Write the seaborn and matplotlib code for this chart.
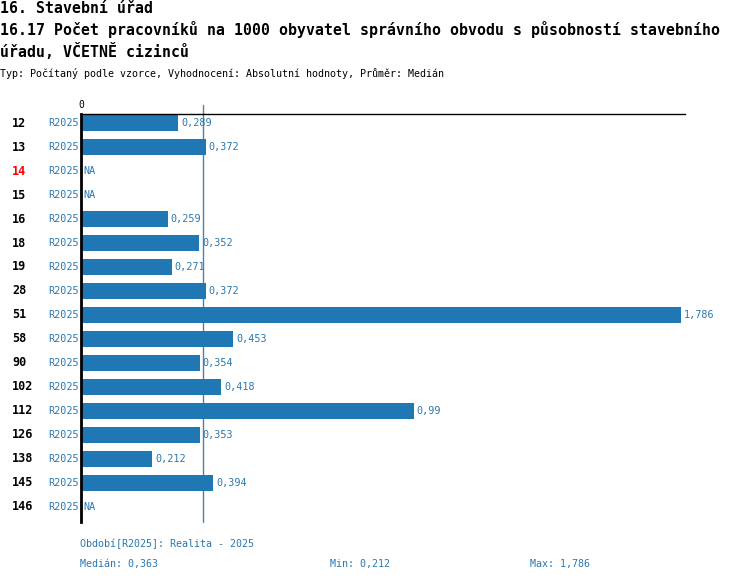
import matplotlib
matplotlib.use("Agg")
import matplotlib.pyplot as plt
import seaborn as sns
import numpy as np
import pandas as pd

# data
obvody = ["12", "13", "14", "15", "16", "18", "19", "28", "51", "58",
          "90", "102", "112", "126", "138", "145", "146"]
hodnoty = [0.289, 0.372, np.nan, np.nan, 0.259, 0.352, 0.271, 0.372, 1.786,
           0.453, 0.354, 0.418, 0.99, 0.353, 0.212, 0.394, np.nan]
obdobi = "R2025"
median = 0.363
minimum = 0.212
maximum = 1.786

modra = "#1f77b4"
text_modra = "#2a78b0"

df = pd.DataFrame({"obvod": obvody, "hodnota": hodnoty})

sns.set_style("white")
plt.rcParams["font.family"] = ["DejaVu Sans Mono"]
plt.rcParams["text.color"] = "black"

W, H = 750, 582
fig = plt.figure(figsize=(W / 100, H / 100), dpi=100)
ax = fig.add_axes([81 / W, 1 - 522 / H, 604 / W, 408 / H])

sns.barplot(data=df, x="hodnota", y="obvod", orient="h", color=modra,
            width=0.63, saturation=1, linewidth=0, edgecolor="none", ax=ax)

ax.set_xlim(0, 604 / 336)
ax.set_ylim(16.625, -0.375)
ax.set_xlabel("")
ax.set_ylabel("")
ax.set_yticks([])
ax.set_xticks([])
for s in ["right", "bottom"]:
    ax.spines[s].set_visible(False)
ax.spines["left"].set_linewidth(2)
ax.spines["left"].set_color("black")
ax.spines["top"].set_linewidth(1)
ax.spines["top"].set_color("black")

# median line
ax.plot([median, median], [16.625, -0.75], color="#5580a0", lw=1,
        clip_on=False, zorder=0.5)

# zero label
ax.annotate("0", xy=(0, 1), xycoords="axes fraction", xytext=(0, 3),
            textcoords="offset points", ha="center", va="bottom", fontsize=7)

for i, (ob, v) in enumerate(zip(obvody, hodnoty)):
    barva = "red" if ob == "14" else "black"
    ax.annotate(ob, xy=(-69 / 604, i), xycoords=("axes fraction", "data"),
                ha="left", va="center", fontsize=8.5, fontweight="bold",
                color=barva)
    ax.annotate(obdobi, xy=(-2 / 604, i), xycoords=("axes fraction", "data"),
                ha="right", va="center", fontsize=7.3, color=text_modra)
    if np.isnan(v):
        popis, x = "NA", 0
    else:
        popis, x = f"{v:g}".replace(".", ","), v
    ax.annotate(popis, xy=(x, i), xytext=(2, 0), textcoords="offset points",
                ha="left", va="center", fontsize=7.3, color=text_modra)

# titles
fig.text(0, 1 - 13 / H, "16. Stavební úřad", fontsize=10.75,
         fontweight="bold", va="baseline", ha="left")
fig.text(0, 1 - 35 / H,
         "16.17 Počet pracovníků na 1000 obyvatel správního obvodu s působností stavebního",
         fontsize=10.75, fontweight="bold", va="baseline", ha="left")
fig.text(0, 1 - 57 / H, "úřadu, VČETNĚ cizinců", fontsize=10.75,
         fontweight="bold", va="baseline", ha="left")
fig.text(0, 1 - 77 / H,
         "Typ: Počítaný podle vzorce, Vyhodnocení: Absolutní hodnoty, Průměr: Medián",
         fontsize=7.2, va="baseline", ha="left")

# footer
fig.text(80 / W, 1 - 544 / H, f"Období[{obdobi}]: Realita - 2025",
         fontsize=7.2, color=text_modra, va="center", ha="left")
fig.text(80 / W, 1 - 564 / H, f"Medián: {median:g}".replace(".", ","),
         fontsize=7.2, color=text_modra, va="center", ha="left")
fig.text(330 / W, 1 - 564 / H, f"Min: {minimum:g}".replace(".", ","),
         fontsize=7.2, color=text_modra, va="center", ha="left")
fig.text(530 / W, 1 - 564 / H, f"Max: {maximum:g}".replace(".", ","),
         fontsize=7.2, color=text_modra, va="center", ha="left")

fig.savefig("out.png", dpi=100)
